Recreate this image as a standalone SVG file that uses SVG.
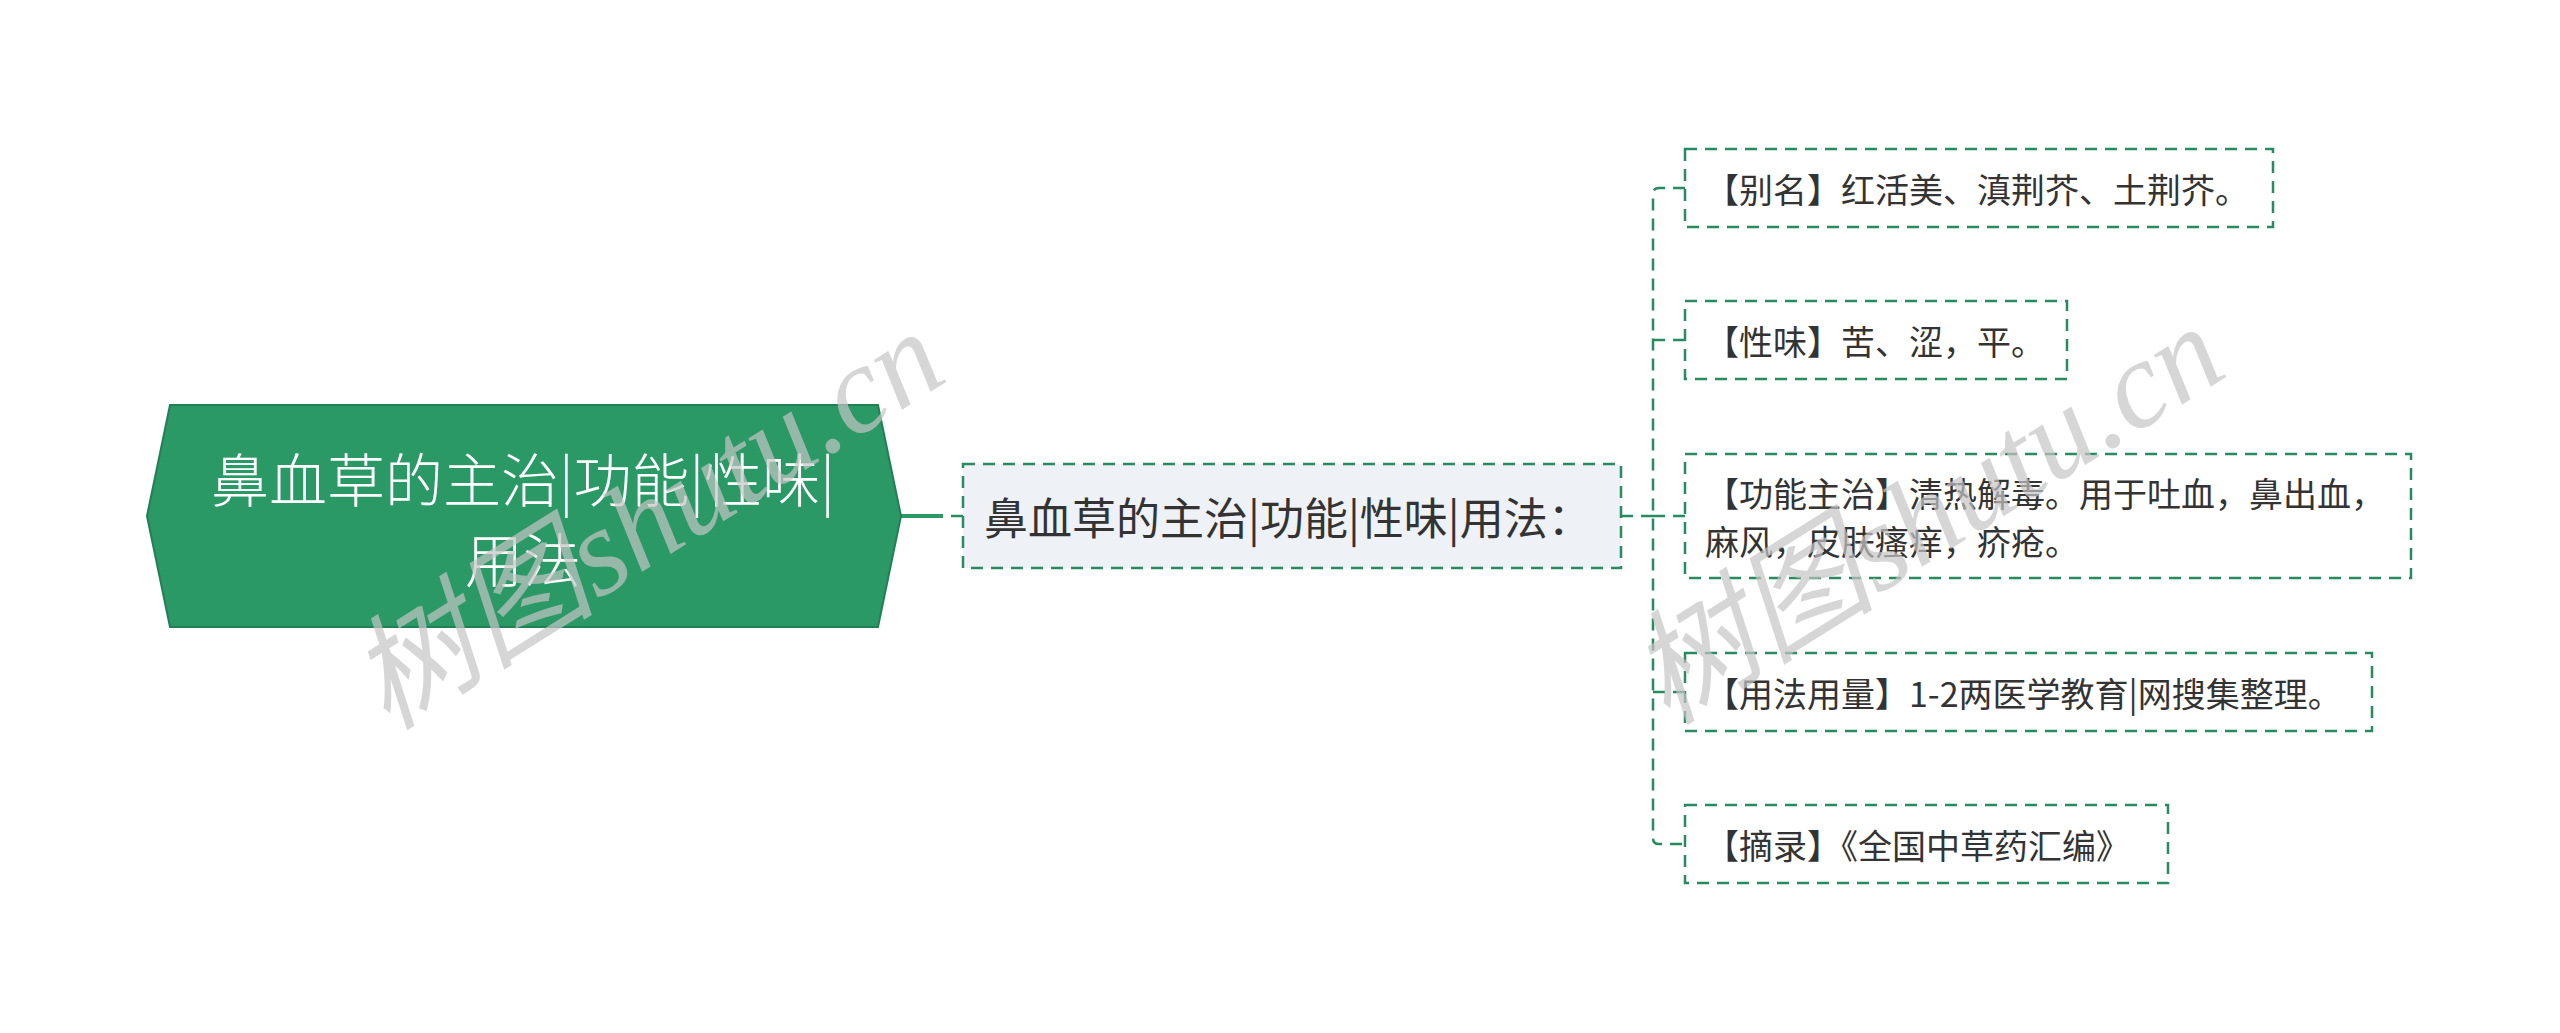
<svg xmlns="http://www.w3.org/2000/svg" width="2560" height="1033" viewBox="0 0 2560 1033">
<style>
.bg{fill:#ffffff}
.root{fill:#2A9966;stroke:#237f55;stroke-width:2}
.rt{font-family:"Noto Sans CJK SC","Noto Sans",sans-serif;font-size:58px;font-weight:300;fill:#ffffff;text-anchor:middle;dominant-baseline:central}
.mid{fill:#EEF1F5;stroke:#2A8A5F;stroke-width:2.5;stroke-dasharray:12 8}
.leaf{fill:#ffffff;stroke:#2A8A5F;stroke-width:2.5;stroke-dasharray:12 8}
.mt{font-family:"Noto Sans CJK SC","Noto Sans",sans-serif;font-size:44px;fill:#333333;dominant-baseline:central}
.lt{font-family:"Noto Sans CJK SC","Noto Sans",sans-serif;font-size:34px;fill:#333333;dominant-baseline:central}
.cn{fill:none;stroke:#2A8A5F;stroke-width:2.5;stroke-dasharray:12 8}
.wm{font-family:"Liberation Serif","Noto Sans CJK SC",serif;font-style:italic;font-size:124px;fill:#c4c4c4;fill-opacity:0.7;text-anchor:middle;dominant-baseline:central}
</style>
<rect class="bg" x="0" y="0" width="2560" height="1033"/>
<g id="connectors">
<line x1="901" y1="516" x2="943" y2="516" stroke="#2A9966" stroke-width="4"/>
<line x1="951" y1="516" x2="963" y2="516" stroke="#2A8A5F" stroke-width="2.5"/>
<path class="cn" d="M1621,516 H1653"/>
<path class="cn" d="M1685,188 H1659 Q1653,188 1653,194 V838 Q1653,844 1659,844 H1685"/>
<path class="cn" d="M1653,340 H1685"/>
<path class="cn" d="M1653,516 H1685"/>
<path class="cn" d="M1653,692 H1685"/>
</g>
<g id="root">
<polygon class="root" points="147,516 170,405 878,405 901,516 878,627 170,627"/>
<text class="rt" x="523" y="477">鼻血草的主治|功能|性味|</text>
<text class="rt" x="523" y="557">用法</text>
</g>
<g id="middle">
<rect class="mid" x="963" y="464" width="658" height="104"/>
<text class="mt" x="984" y="516">鼻血草的主治|功能|性味|用法：</text>
</g>
<g id="leaf1">
<rect class="leaf" x="1685" y="149" width="588" height="78"/>
<text class="lt" x="1705" y="188">【别名】红活美、滇荆芥、土荆芥。</text>
</g>
<g id="leaf2">
<rect class="leaf" x="1685" y="301" width="382" height="78"/>
<text class="lt" x="1705" y="340">【性味】苦、涩，平。</text>
</g>
<g id="leaf3">
<rect class="leaf" x="1685" y="454" width="726" height="124"/>
<text class="lt" x="1705" y="492">【功能主治】清热解毒。用于吐血，鼻出血，</text>
<text class="lt" x="1705" y="540">麻风，皮肤瘙痒，疥疮。</text>
</g>
<g id="leaf4">
<rect class="leaf" x="1685" y="653" width="687" height="78"/>
<text class="lt" x="1705" y="692">【用法用量】1-2两医学教育|网搜集整理。</text>
</g>
<g id="leaf5">
<rect class="leaf" x="1685" y="805" width="483" height="78"/>
<text class="lt" x="1705" y="844">【摘录】《全国中草药汇编》</text>
</g>
<g id="watermarks">
<text class="wm" transform="translate(647,520) rotate(-32)">树图shutu.cn</text>
<text class="wm" transform="translate(1927,515) rotate(-32)">树图shutu.cn</text>
</g>
</svg>
